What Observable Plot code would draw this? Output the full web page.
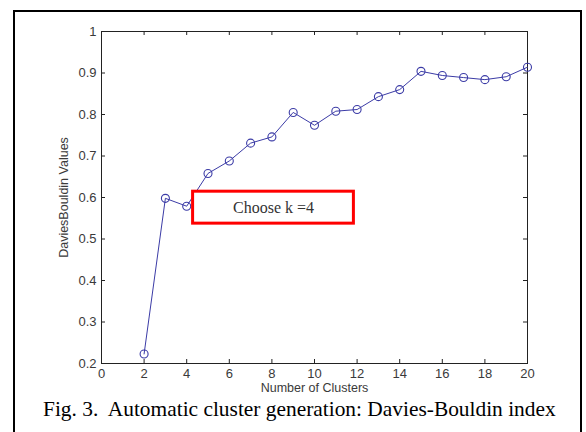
<!DOCTYPE html>
<html>
<head>
<meta charset="utf-8">
<script src="https://cdn.jsdelivr.net/npm/d3@7"></script>
<script src="https://cdn.jsdelivr.net/npm/@observablehq/plot@0.6"></script>
<style>
  html, body { margin: 0; padding: 0; background: #fff; }
  #wrap { position: relative; width: 586px; height: 432px; overflow: hidden; background: #fff; }
  #wrap svg { position: absolute; left: 0; top: 0; }
  #frame { position: absolute; left: 13px; top: 10px; width: 565px; height: 440px; border: 2px solid #000; box-sizing: content-box; pointer-events: none; }
  #caption { position: absolute; left: 43px; top: 399px; font-family: "Liberation Serif", "Times New Roman", serif; font-size: 21.4px; white-space: pre; color: #000; line-height: 1; }
</style>
</head>
<body>
<div id="wrap">
  <div id="frame"></div>
  <div id="caption"></div>
</div>
<script>
const clusters = [2, 3, 4, 5, 6, 7, 8, 9, 10, 11, 12, 13, 14, 15, 16, 17, 18, 19, 20];
const dbValues = [0.223, 0.598, 0.579, 0.658, 0.688, 0.731, 0.746, 0.805, 0.774, 0.808, 0.812, 0.843, 0.860, 0.904, 0.894, 0.889, 0.884, 0.891, 0.914];
const xTicks = [0, 2, 4, 6, 8, 10, 12, 14, 16, 18, 20];
const yTicks = [0.2, 0.3, 0.4, 0.5, 0.6, 0.7, 0.8, 0.9, 1];
const xLabel = "Number of Clusters";
const yLabel = "DaviesBouldin Values";
const noteText = "Choose k =4";
const noteBoxX = [4.3, 11.85];
const noteBoxY = [0.537, 0.614];
const captionText = "Fig. 3.  Automatic cluster generation: Davies-Bouldin index";

const data = clusters.map((k, i) => ({k, v: dbValues[i]}));
const note = [{x1: noteBoxX[0], x2: noteBoxX[1], y1: noteBoxY[0], y2: noteBoxY[1], label: noteText}];

const W = 586, H = 432, mL = 101, mR = 59, mT = 31, mB = 69;
const plotH = H - mT - mB, plotW = W - mL - mR, tk = 4;
const lineColor = "#3b3ba6";
const textColor = "#3a3a3a";

const chart = Plot.plot({
  width: W, height: H,
  marginLeft: mL, marginRight: mR, marginTop: mT, marginBottom: mB,
  style: {fontFamily: "'Liberation Sans', Arial, sans-serif", background: "transparent"},
  x: {domain: [0, 20]},
  y: {domain: [0.2, 1]},
  marks: [
    Plot.frame({stroke: "#222", strokeWidth: 1}),
    // inward ticks on all four sides
    Plot.tickX(xTicks, {x: d => d, insetTop: plotH - tk, stroke: "#222"}),
    Plot.tickX(xTicks, {x: d => d, insetBottom: plotH - tk, stroke: "#222"}),
    Plot.tickY(yTicks, {y: d => d, insetRight: plotW - tk, stroke: "#222"}),
    Plot.tickY(yTicks, {y: d => d, insetLeft: plotW - tk, stroke: "#222"}),
    Plot.axisX(xTicks, {tickSize: 0, tickPadding: 5, fontSize: 13, fill: textColor, label: null}),
    Plot.axisY(yTicks, {tickSize: 0, tickPadding: 5, fontSize: 13, fill: textColor, label: null, tickFormat: d => String(d)}),
    Plot.text([xLabel], {frameAnchor: "bottom", dy: 28, text: d => d, fontSize: 12.5, fill: textColor}),
    Plot.text([yLabel], {frameAnchor: "left", textAnchor: "middle", dx: -38, rotate: -90, text: d => d, fontSize: 12.5, fill: textColor}),
    Plot.line(data, {x: "k", y: "v", stroke: lineColor, strokeWidth: 1}),
    Plot.dot(data, {x: "k", y: "v", r: 4, stroke: lineColor, fill: "none", strokeWidth: 1.1}),
    Plot.rect(note, {x1: "x1", x2: "x2", y1: "y1", y2: "y2", fill: "#fff", stroke: "#f00", strokeWidth: 3}),
    Plot.text(note, {x: d => (d.x1 + d.x2) / 2, y: d => (d.y1 + d.y2) / 2, text: "label", fontSize: 16, fontFamily: "'Liberation Serif', 'Times New Roman', serif", fill: "#333"})
  ]
});
document.getElementById("wrap").insertBefore(chart, document.getElementById("frame"));
document.getElementById("caption").textContent = captionText;
</script>
</body>
</html>
